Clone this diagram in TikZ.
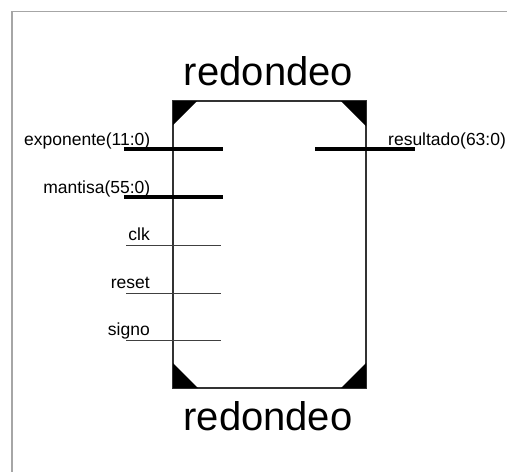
\documentclass[tikz,border=0pt]{standalone}
\usepackage{fontspec}
\setmainfont{Liberation Sans}
\usetikzlibrary{positioning}

\tikzset{
    bus/.style={line width=3.5pt, black},
    wire/.style={line width=0.9pt, black!75},
    pinlabel/.style={inner sep=0pt, font=\fontsize{17.5}{20}\selectfont},
    blocktitle/.style={inner sep=0pt, font=\fontsize{40}{44}\selectfont}
}

\begin{document}
\begin{tikzpicture}[x=1pt, y=-1pt]
    
    \useasboundingbox (0,0) rectangle (507,472);
    
    % frame
    \coordinate (f1) at (507, 11.5);
    \coordinate (f2) at (12, 11.5);
    \coordinate (f3) at (12, 472);
    \draw[black!35, line width=1.5pt] (f1) -- (f2) -- (f3);
    
    % block corners
    \coordinate (b1) at (173, 101);
    \coordinate (b2) at (366, 101);
    \coordinate (b3) at (173, 388);
    \coordinate (b4) at (366, 388);
    
    \draw[black!80, line width=1.2pt] (b1) -- (b2) -- (b4) -- (b3) -- cycle;
    
    \fill (b1) -- ++(24, 0) -- ++(-24, 24) -- cycle;
    \fill (b2) -- ++(-25, 0) -- ++(25, 25) -- cycle;
    \fill (b3) -- ++(25, 0) -- ++(-25, -25) -- cycle;
    \fill (b4) -- ++(-25, 0) -- ++(25, -25) -- cycle;
    
    \node[blocktitle, anchor=base] (t1) at (268.5, 85) {redondeo};
    \node[blocktitle, anchor=base] (t2) at (268, 430.5) {redondeo};
    
    % inputs
    \coordinate (e1) at (124, 149);
    \coordinate (e2) at (223, 149);
    \coordinate (m1) at (124, 197);
    \coordinate (m2) at (223, 197);
    \coordinate (c1) at (126, 245);
    \coordinate (c2) at (221, 245);
    \coordinate (r1) at (126, 293);
    \coordinate (r2) at (221, 293);
    \coordinate (s1) at (126, 340);
    \coordinate (s2) at (221, 340);
    
    \draw[bus] (e1) -- (e2);
    \draw[bus] (m1) -- (m2);
    \draw[wire] (c1) -- (c2);
    \draw[wire] (r1) -- (r2);
    \draw[wire] (s1) -- (s2);
    
    \node[pinlabel, anchor=base east] (exponente) at (150.5, 145.5) {exponente(11:0)};
    \node[pinlabel, anchor=base east] (mantisa) at (150.5, 193) {mantisa(55:0)};
    \node[pinlabel, anchor=base east] (clk) at (150, 240.5) {clk};
    \node[pinlabel, anchor=base east] (reset) at (150, 288) {reset};
    \node[pinlabel, anchor=base east] (signo) at (150, 335.5) {signo};
    
    % output
    \coordinate (o1) at (315, 149);
    \coordinate (o2) at (415, 149);
    \draw[bus] (o1) -- (o2);
    \node[pinlabel, anchor=base west] (resultado) at (388, 145) {resultado(63:0)};
    
\end{tikzpicture}
\end{document}
